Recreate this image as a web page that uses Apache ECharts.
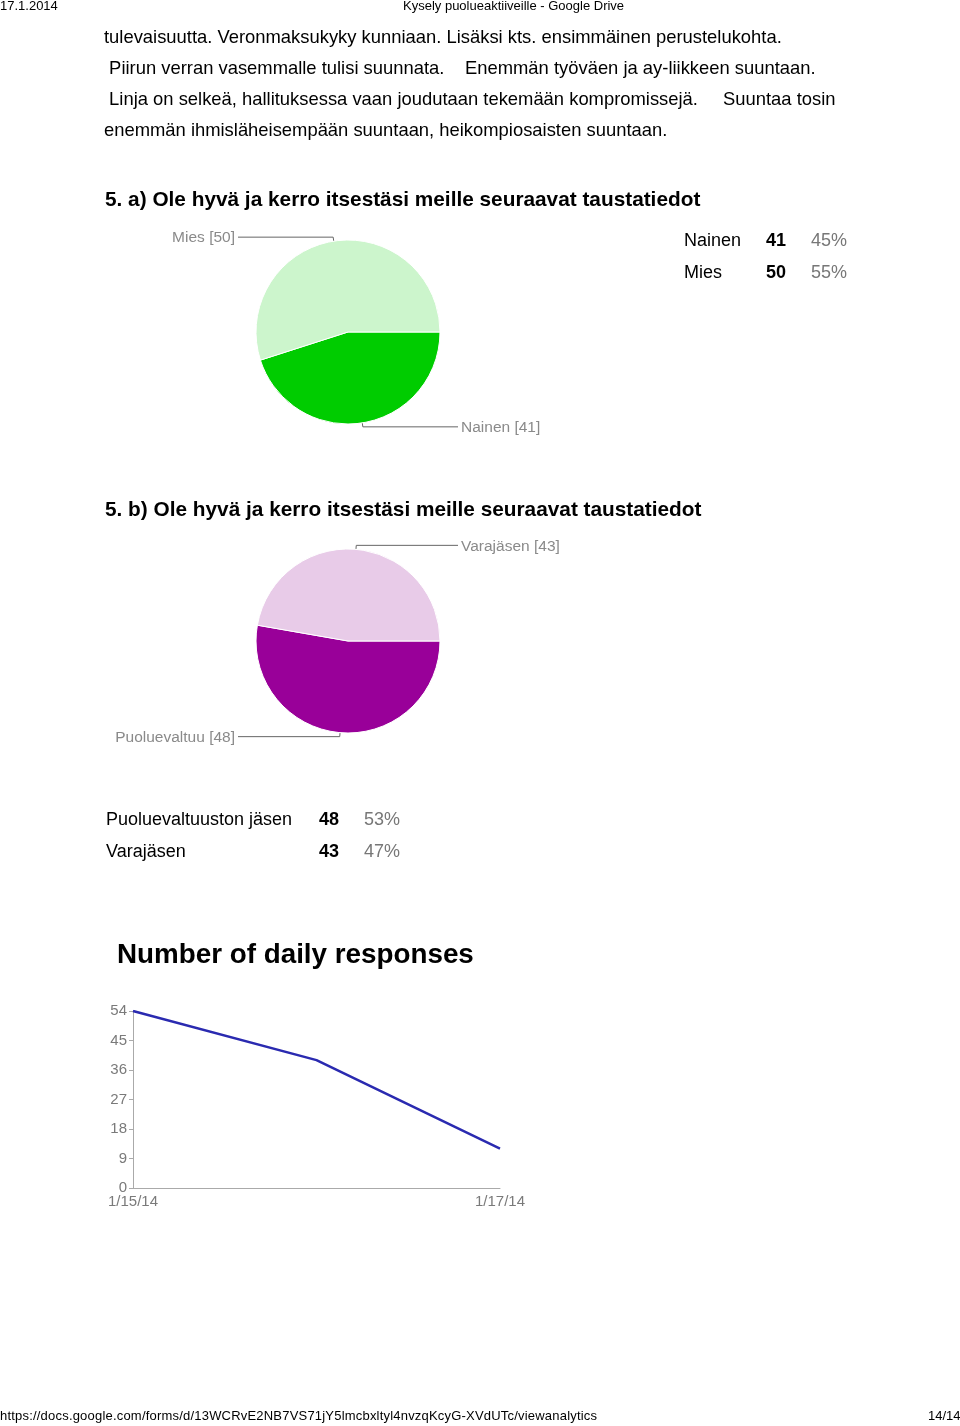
<!DOCTYPE html>
<html>
<head>
<meta charset="utf-8">
<script src="https://cdn.jsdelivr.net/npm/echarts@6/dist/echarts.min.js"></script>
<style>
  html, body { margin:0; padding:0; background:#fff; }
  #page { position:relative; width:960px; height:1426px; overflow:hidden; font-family:"Liberation Sans", Arial, sans-serif; color:#000; }
  #chart { position:absolute; left:0; top:0; width:960px; height:1426px; }
  .t { position:absolute; white-space:pre; }
  .body { font-size:18.4px; line-height:24px; }
  .hdr { font-size:13px; line-height:16px; letter-spacing:0; }
  .ftr { font-size:13px; line-height:16px; letter-spacing:0.2px; }
  .qtitle { font-size:20.8px; line-height:26px; font-weight:bold; }
  .big { font-size:27.8px; line-height:34px; font-weight:bold; }
  .tbl { font-size:18px; line-height:24px; }
  .num { font-weight:bold; }
  .pct { color:#777; }
</style>
</head>
<body>
<div id="page">
  <div id="chart"></div>
</div>
<script>
// ---- data ----
const bodyLines = [
  ["tulevaisuutta. Veronmaksukyky kunniaan. Lisäksi kts. ensimmäinen perustelukohta."],
  [" Piirun verran vasemmalle tulisi suunnata.", "Enemmän työväen ja ay-liikkeen suuntaan."],
  [" Linja on selkeä, hallituksessa vaan joudutaan tekemään kompromissejä.", "Suuntaa tosin"],
  ["enemmän ihmisläheisempään suuntaan, heikompiosaisten suuntaan."]
];
const titleA = "5. a) Ole hyvä ja kerro itsestäsi meille seuraavat taustatiedot";
const titleB = "5. b) Ole hyvä ja kerro itsestäsi meille seuraavat taustatiedot";
const pieACategories = ["Nainen", "Mies"];
const pieAValues = [41, 50];
const pieBCategories = ["Puoluevaltuuston jäsen", "Varajäsen"];
const pieBLabelNames = ["Puoluevaltuu", "Varajäsen"];
const pieBValues = [48, 43];
const dailyTitle = "Number of daily responses";
const dailyDates = ["1/15/14", "1/16/14", "1/17/14"];
const dailyValues = [54, 39, 12];
const yMin = 0, yMax = 54, yInterval = 9;
const headerDate = "17.1.2014";
const headerTitle = "Kysely puolueaktiiveille - Google Drive";
const footerUrl = "https://docs.google.com/forms/d/13WCRvE2NB7VS71jY5lmcbxltyl4nvzqKcyG-XVdUTc/viewanalytics";
const footerPage = "14/14";

// ---- text layout ----
const page = document.getElementById('page');
function addText(txt, cls, left, cy, lh, extra) {
  const d = document.createElement('div');
  d.className = 't ' + cls;
  d.textContent = txt;
  d.style.left = left + 'px';
  d.style.top = (cy - lh / 2) + 'px';
  if (extra) Object.assign(d.style, extra);
  page.appendChild(d);
  return d;
}
addText(headerDate, 'hdr', 0, 6, 16);
addText(headerTitle, 'hdr', 403, 6, 16);
const bodyX = [[104], [104, 465], [104, 723], [104]];
const bodyY = [37, 68, 99, 130];
bodyLines.forEach((ln, i) => ln.forEach((s, j) => addText(s, 'body', bodyX[i][j], bodyY[i], 24)));
addText(titleA, 'qtitle', 105, 199, 26);
addText(titleB, 'qtitle', 105, 509, 26);
addText(dailyTitle, 'big', 117, 954, 34);

function pct(v, arr) { const s = arr.reduce((a, b) => a + b, 0); return Math.round(v / s * 100) + '%'; }
function table(cats, vals, x0, xNum, xPct, y0, dy) {
  cats.forEach((c, i) => {
    const y = y0 + i * dy;
    addText(c, 'tbl', x0, y, 24);
    addText(String(vals[i]), 'tbl num', xNum, y, 24);
    addText(pct(vals[i], vals), 'tbl pct', xPct, y, 24);
  });
}
table(pieACategories, pieAValues, 684, 766, 811, 240, 32);
table(pieBCategories, pieBValues, 106, 319, 364, 819, 32);

addText(footerUrl, 'ftr', 0, 1416, 16);
addText(footerPage, 'hdr', 928, 1416, 16);

// ---- chart ----
const chart = echarts.init(document.getElementById('chart'), null, { renderer: 'canvas' });
const FONT = '"Liberation Sans", Arial, sans-serif';
const labelStyle = {
  show: true, position: 'outside', color: '#8a8a8a', fontSize: 15.5,
  fontFamily: FONT, distanceToLabelLine: 3
};
const labelLineStyle = { show: true, length: 4, length2: 95, smooth: false, lineStyle: { color: '#666', width: 1 } };
// leader lines end at fixed page columns, as in the original print
const leaderLeftX = 238, leaderRightX = 458;
function leaderLayout(params) {
  const pts = params.labelLinePoints;
  if (!pts || pts.length < 3) return {};
  const p = pts.map(a => a.slice());
  const left = p[2][0] < p[1][0];
  p[2][0] = left ? leaderLeftX : leaderRightX;
  return {
    x: left ? p[2][0] - 3 : p[2][0] + 3,
    y: p[2][1] + 1,
    align: left ? 'right' : 'left',
    verticalAlign: 'middle',
    labelLinePoints: p
  };
}
function pieSeries(cats, vals, names, colors, center) {
  return {
    type: 'pie', radius: 92, center: center, startAngle: 0, clockwise: true,
    avoidLabelOverlap: false, silent: true, animation: false,
    itemStyle: { borderColor: '#fff', borderWidth: 1 },
    label: Object.assign({}, labelStyle, {
      formatter: p => names[p.dataIndex] + ' [' + p.value + ']'
    }),
    labelLine: labelLineStyle,
    labelLayout: leaderLayout,
    data: cats.map((c, i) => ({ name: c, value: vals[i], itemStyle: { color: colors[i] } }))
  };
}
chart.setOption({
  animation: false,
  grid: { left: 133, top: 1011, width: 367, height: 177 },
  xAxis: {
    type: 'category', data: dailyDates, boundaryGap: false,
    axisLine: { show: true, lineStyle: { color: '#aaa' } },
    axisTick: { show: false },
    axisLabel: {
      color: '#7a7a7a', fontSize: 15, margin: 6,
      interval: (i) => i === 0 || i === dailyDates.length - 1,
      fontFamily: FONT
    },
    splitLine: { show: false }
  },
  yAxis: {
    type: 'value', min: yMin, max: yMax, interval: yInterval,
    axisLine: { show: true, lineStyle: { color: '#aaa' } },
    axisTick: { show: true, length: 4, lineStyle: { color: '#aaa' } },
    axisLabel: { color: '#7a7a7a', fontSize: 15, margin: 6, fontFamily: FONT },
    splitLine: { show: false }
  },
  series: [
    pieSeries(pieACategories, pieAValues, pieACategories, ['#00cc00', '#ccf5cc'], [348, 332]),
    pieSeries(pieBCategories, pieBValues, pieBLabelNames, ['#990099', '#e8cbe8'], [348, 641]),
    {
      type: 'line', data: dailyValues, showSymbol: false, symbol: 'none',
      lineStyle: { color: '#2a2ab0', width: 2.5 }, silent: true
    }
  ]
});
</script>
</body>
</html>
